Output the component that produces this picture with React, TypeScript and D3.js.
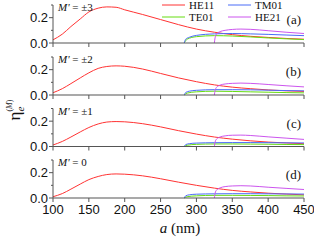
import React, { useEffect, useRef } from 'react';
import * as d3 from 'd3';

// wavelength grid for HE11 (nm)
const aHE11 = [100, 113, 125, 138, 150, 163, 175, 188, 200, 225, 250, 275, 300, 325, 350, 375, 400, 425, 450];
const he11A = [0.025, 0.07, 0.13, 0.19, 0.245, 0.275, 0.285, 0.282, 0.262, 0.225, 0.185, 0.145, 0.11, 0.085, 0.066, 0.053, 0.044, 0.036, 0.03];
const he11B = [0.018, 0.05, 0.09, 0.135, 0.175, 0.21, 0.225, 0.23, 0.227, 0.205, 0.17, 0.135, 0.105, 0.08, 0.062, 0.05, 0.04, 0.033, 0.028];
const he11C = [0.012, 0.04, 0.075, 0.115, 0.15, 0.178, 0.193, 0.197, 0.195, 0.18, 0.155, 0.125, 0.098, 0.075, 0.058, 0.045, 0.035, 0.028, 0.022];
const he11D = [0.01, 0.035, 0.07, 0.11, 0.145, 0.17, 0.185, 0.19, 0.188, 0.175, 0.152, 0.125, 0.1, 0.078, 0.06, 0.048, 0.038, 0.031, 0.025];

// TM01 / TE01 start at cutoff ~283 nm
const aTM = [283, 285, 290, 300, 325, 350, 375, 400, 425, 450];
const tm01A = [0, 0.03, 0.045, 0.06, 0.072, 0.075, 0.072, 0.068, 0.063, 0.058];
const tm01B = [0, 0.02, 0.03, 0.037, 0.042, 0.042, 0.041, 0.038, 0.035, 0.033];
const tm01C = [0, 0.015, 0.022, 0.027, 0.03, 0.031, 0.031, 0.03, 0.029, 0.028];
const tm01D = [0, 0.017, 0.025, 0.03, 0.033, 0.034, 0.034, 0.033, 0.032, 0.031];

const aTE = [283, 287, 300, 325, 350, 375, 400, 425, 450];
const te01A = [0, 0.03, 0.05, 0.058, 0.055, 0.048, 0.04, 0.033, 0.027];
const te01B = [0, 0.015, 0.025, 0.03, 0.028, 0.025, 0.022, 0.019, 0.017];
const te01C = [0, 0.01, 0.017, 0.02, 0.02, 0.019, 0.018, 0.016, 0.015];
const te01D = [0, 0.01, 0.017, 0.021, 0.021, 0.02, 0.019, 0.017, 0.016];

// HE21 starts at ~325 nm
const aHE21 = [325, 326, 328, 333, 340, 350, 362, 375, 400, 425, 450];
const he21A = [0, 0.04, 0.07, 0.09, 0.1, 0.107, 0.11, 0.108, 0.097, 0.085, 0.075];
const he21B = [0, 0.035, 0.06, 0.078, 0.087, 0.092, 0.094, 0.092, 0.083, 0.073, 0.064];
const he21C = [0, 0.035, 0.058, 0.075, 0.084, 0.089, 0.09, 0.087, 0.076, 0.066, 0.056];
const he21D = [0, 0.037, 0.062, 0.08, 0.09, 0.095, 0.097, 0.095, 0.085, 0.076, 0.067];

const panelNames = ['(a)', '(b)', '(c)', '(d)'];
const mLabels = ['±3', '±2', '±1', '0'];
const xTicks = [100, 150, 200, 250, 300, 350, 400, 450];
const yTicks = [0, 0.2];
const modes = ['HE11', 'TM01', 'TE01', 'HE21'];
const colors = ['#ff3333', '#4a6cf7', '#66dd11', '#cc55ee'];

const panels = [
    { he11: he11A, tm01: tm01A, te01: te01A, he21: he21A },
    { he11: he11B, tm01: tm01B, te01: te01B, he21: he21B },
    { he11: he11C, tm01: tm01C, te01: te01C, he21: he21C },
    { he11: he11D, tm01: tm01D, te01: te01D, he21: he21D },
];

const App = () => {
    const ref = useRef<SVGSVGElement>(null);

    useEffect(() => {
        const svg = d3.select(ref.current);
        svg.selectAll('*').remove();

        const left = 53, right = 304;
        const bottoms = [43, 95, 146.5, 198];
        const ph = 38;
        const axisCol = '#555';

        const x = d3.scaleLinear().domain([100, 450]).range([left, right]);

        panels.forEach((p, i) => {
            const yb = bottoms[i];
            const y = d3.scaleLinear().domain([0, 0.3]).range([yb, yb - ph]);
            const g = svg.append('g');

            const line = (xs: number[]) => d3.line<number>()
                .x((d, k) => x(xs[k]))
                .y(d => y(d))
                .curve(d3.curveMonotoneX);

            const series = [
                { xs: aHE11, ys: p.he11, c: colors[0] },
                { xs: aTE, ys: p.te01, c: colors[2] },
                { xs: aTM, ys: p.tm01, c: colors[1] },
                { xs: aHE21, ys: p.he21, c: colors[3] },
            ];
            series.forEach(s => {
                g.append('path')
                    .attr('d', line(s.xs)(s.ys))
                    .attr('fill', 'none')
                    .attr('stroke', s.c)
                    .attr('stroke-width', 1);
            });

            // left axis
            g.append('line').attr('x1', left).attr('x2', left)
                .attr('y1', y(0.3)).attr('y2', yb)
                .attr('stroke', axisCol).attr('stroke-width', 1);
            [0.1, 0.3].forEach(t => {
                g.append('line').attr('x1', left - 2).attr('x2', left)
                    .attr('y1', y(t)).attr('y2', y(t)).attr('stroke', axisCol);
            });
            yTicks.forEach(t => {
                g.append('line').attr('x1', left - 4).attr('x2', left)
                    .attr('y1', y(t)).attr('y2', y(t)).attr('stroke', axisCol);
                g.append('text')
                    .attr('x', left - 5).attr('y', y(t))
                    .attr('dy', '0.36em')
                    .attr('text-anchor', 'end')
                    .attr('font-family', 'Liberation Sans, Arial, sans-serif')
                    .attr('font-size', 13)
                    .attr('fill', '#111')
                    .text(t.toFixed(1));
            });

            // bottom axis
            g.append('line').attr('x1', left).attr('x2', right)
                .attr('y1', yb).attr('y2', yb)
                .attr('stroke', axisCol).attr('stroke-width', 1.2);
            xTicks.forEach(t => {
                g.append('line').attr('x1', x(t)).attr('x2', x(t))
                    .attr('y1', yb).attr('y2', yb + 4).attr('stroke', axisCol);
            });

            // M' label
            const ml = g.append('text')
                .attr('x', 58).attr('y', yb - ph + 6)
                .attr('font-family', 'Liberation Serif, Times New Roman, serif')
                .attr('font-size', 11)
                .attr('fill', '#111');
            ml.append('tspan').attr('font-style', 'italic').text("M'");
            ml.append('tspan').text(' = ' + mLabels[i]);

            g.append('text')
                .attr('x', 301).attr('y', yb - 19)
                .attr('text-anchor', 'end')
                .attr('font-family', 'Liberation Serif, Times New Roman, serif')
                .attr('font-size', 13)
                .attr('fill', '#111')
                .text(panelNames[i]);

            if (i === 3) {
                xTicks.forEach(t => {
                    g.append('text')
                        .attr('x', x(t)).attr('y', yb + 16)
                        .attr('text-anchor', 'middle')
                        .attr('font-family', 'Liberation Sans, Arial, sans-serif')
                        .attr('font-size', 13)
                        .attr('fill', '#111')
                        .text(t);
                });
            }
        });

        // legend
        const legPos = [[162, 5], [228, 5], [162, 17], [228, 17]];
        modes.forEach((m, k) => {
            const [lx, ly] = legPos[k];
            svg.append('line').attr('x1', lx).attr('x2', lx + 23)
                .attr('y1', ly).attr('y2', ly)
                .attr('stroke', colors[k]).attr('stroke-width', 1);
            svg.append('text').attr('x', lx + 27).attr('y', ly).attr('dy', '0.35em')
                .attr('font-family', 'Liberation Serif, Times New Roman, serif')
                .attr('font-size', 11).attr('fill', '#111')
                .text(m);
        });

        // x label
        const xl = svg.append('text')
            .attr('x', 180).attr('y', 233)
            .attr('text-anchor', 'middle')
            .attr('font-family', 'Liberation Serif, Times New Roman, serif')
            .attr('font-size', 15)
            .attr('fill', '#111');
        xl.append('tspan').attr('font-style', 'italic').text('a');
        xl.append('tspan').text(' (nm)');

        // y label
        const yl = svg.append('text')
            .attr('transform', 'translate(20,110) rotate(-90)')
            .attr('text-anchor', 'middle')
            .attr('font-family', 'Liberation Serif, Times New Roman, serif')
            .attr('font-size', 17)
            .attr('fill', '#111');
        yl.append('tspan').text('η');
        yl.append('tspan').attr('font-style', 'italic').attr('font-size', 11).attr('dy', 4).text('e');
        yl.append('tspan').attr('font-size', 8).attr('dy', -12).attr('dx', -5).text('(');
        yl.append('tspan').attr('font-size', 8).attr('font-style', 'italic').text('M');
        yl.append('tspan').attr('font-size', 8).text(')');
    }, []);

    return (
        <svg ref={ref} width={314} height={243}
            style={{ position: 'absolute', left: 0, top: 0, background: '#fff' }} />
    );
};

export default App;
